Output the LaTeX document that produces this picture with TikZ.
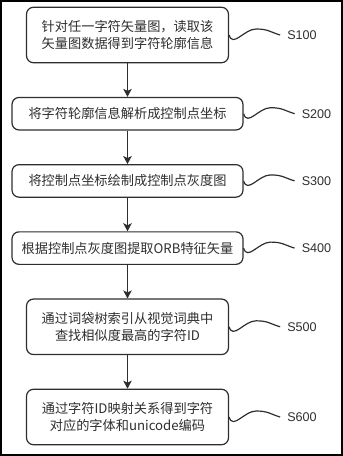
\documentclass[tikz,border=0pt]{standalone}
\usepackage{fontspec}
\setmainfont{Liberation Sans}
\newfontfamily\cjk{Noto Sans CJK SC}
\usepackage{tikz}
\usetikzlibrary{arrows.meta,positioning,calc}
\definecolor{ink}{HTML}{2E2E2E}

\begin{document}
\begin{tikzpicture}[x=1pt, y=-1pt, node distance=33.5pt and 51pt, every node/.style={text=ink}, box/.style={draw=ink, line width=1.2pt, rounded corners=7pt, align=center, minimum width=231pt, minimum height=32.5pt, inner sep=0pt, font=\cjk\fontsize{13.2}{17}\selectfont}, tall/.style={box, minimum width=202pt, minimum height=55.5pt}, tag/.style={inner xsep=7pt, inner ysep=1pt, font=\fontsize{12.6}{14}\selectfont}, arr/.style={-{Stealth[length=8pt,width=8.5pt,inset=2pt]}, draw=ink, line width=1.1pt}, wave/.style={draw=ink, line width=1.2pt}]
\useasboundingbox (0,0) rectangle (343,456);
\draw[line width=2pt] (1,1) rectangle (342,455);
\node[tall] (s1) at (127.5,35) {针对任一字符矢量图，读取该\\矢量图数据得到字符轮廓信息};
\node[box, below=of s1] (s2) {将字符轮廓信息解析成控制点坐标};
\node[box, below=of s2] (s3) {将控制点坐标绘制成控制点灰度图};
\node[box, below=of s3] (s4) {根据控制点灰度图提取ORB特征矢量};
\node[tall, below=of s4] (s5) {通过词袋树索引从视觉词典中\\查找相似度最高的字符ID};
\node[tall, below=of s5] (s6) {通过字符ID映射关系得到字符\\对应的字体和unicode编码};
\node[tag, right=of s1.east, anchor=west] (t1) {S100};
\node[tag, right=of s2.east, anchor=west] (t2) {S200};
\node[tag, right=of s3.east, anchor=west] (t3) {S300};
\node[tag, right=of s4.east, anchor=west] (t4) {S400};
\node[tag, right=of s5.east, anchor=west] (t5) {S500};
\node[tag, right=of s6.east, anchor=west] (t6) {S600};
\coordinate (c1) at ($(s1.east)+(27,-6)$);
\coordinate (c2) at ($(s2.east)+(27,-6)$);
\coordinate (c3) at ($(s3.east)+(27,-6)$);
\coordinate (c4) at ($(s4.east)+(27,-6)$);
\coordinate (c5) at ($(s5.east)+(27,-6)$);
\coordinate (c6) at ($(s6.east)+(27,-6)$);
\draw[arr] (s1)--(s2);
\draw[arr] (s2)--(s3);
\draw[arr] (s3)--(s4);
\draw[arr] (s4)--(s5);
\draw[arr] (s5)--(s6);
\draw[wave] (s1.east) .. controls +(4,13) and +(-12,0) .. (c1) .. controls +(12,0) and +(-10,-3) .. (t1.west);
\draw[wave] (s2.east) .. controls +(4,13) and +(-12,0) .. (c2) .. controls +(12,0) and +(-10,-3) .. (t2.west);
\draw[wave] (s3.east) .. controls +(4,13) and +(-12,0) .. (c3) .. controls +(12,0) and +(-10,-3) .. (t3.west);
\draw[wave] (s4.east) .. controls +(4,13) and +(-12,0) .. (c4) .. controls +(12,0) and +(-10,-3) .. (t4.west);
\draw[wave] (s5.east) .. controls +(4,13) and +(-12,0) .. (c5) .. controls +(12,0) and +(-10,-3) .. (t5.west);
\draw[wave] (s6.east) .. controls +(4,13) and +(-12,0) .. (c6) .. controls +(12,0) and +(-10,-3) .. (t6.west);
\end{tikzpicture}
\end{document}
